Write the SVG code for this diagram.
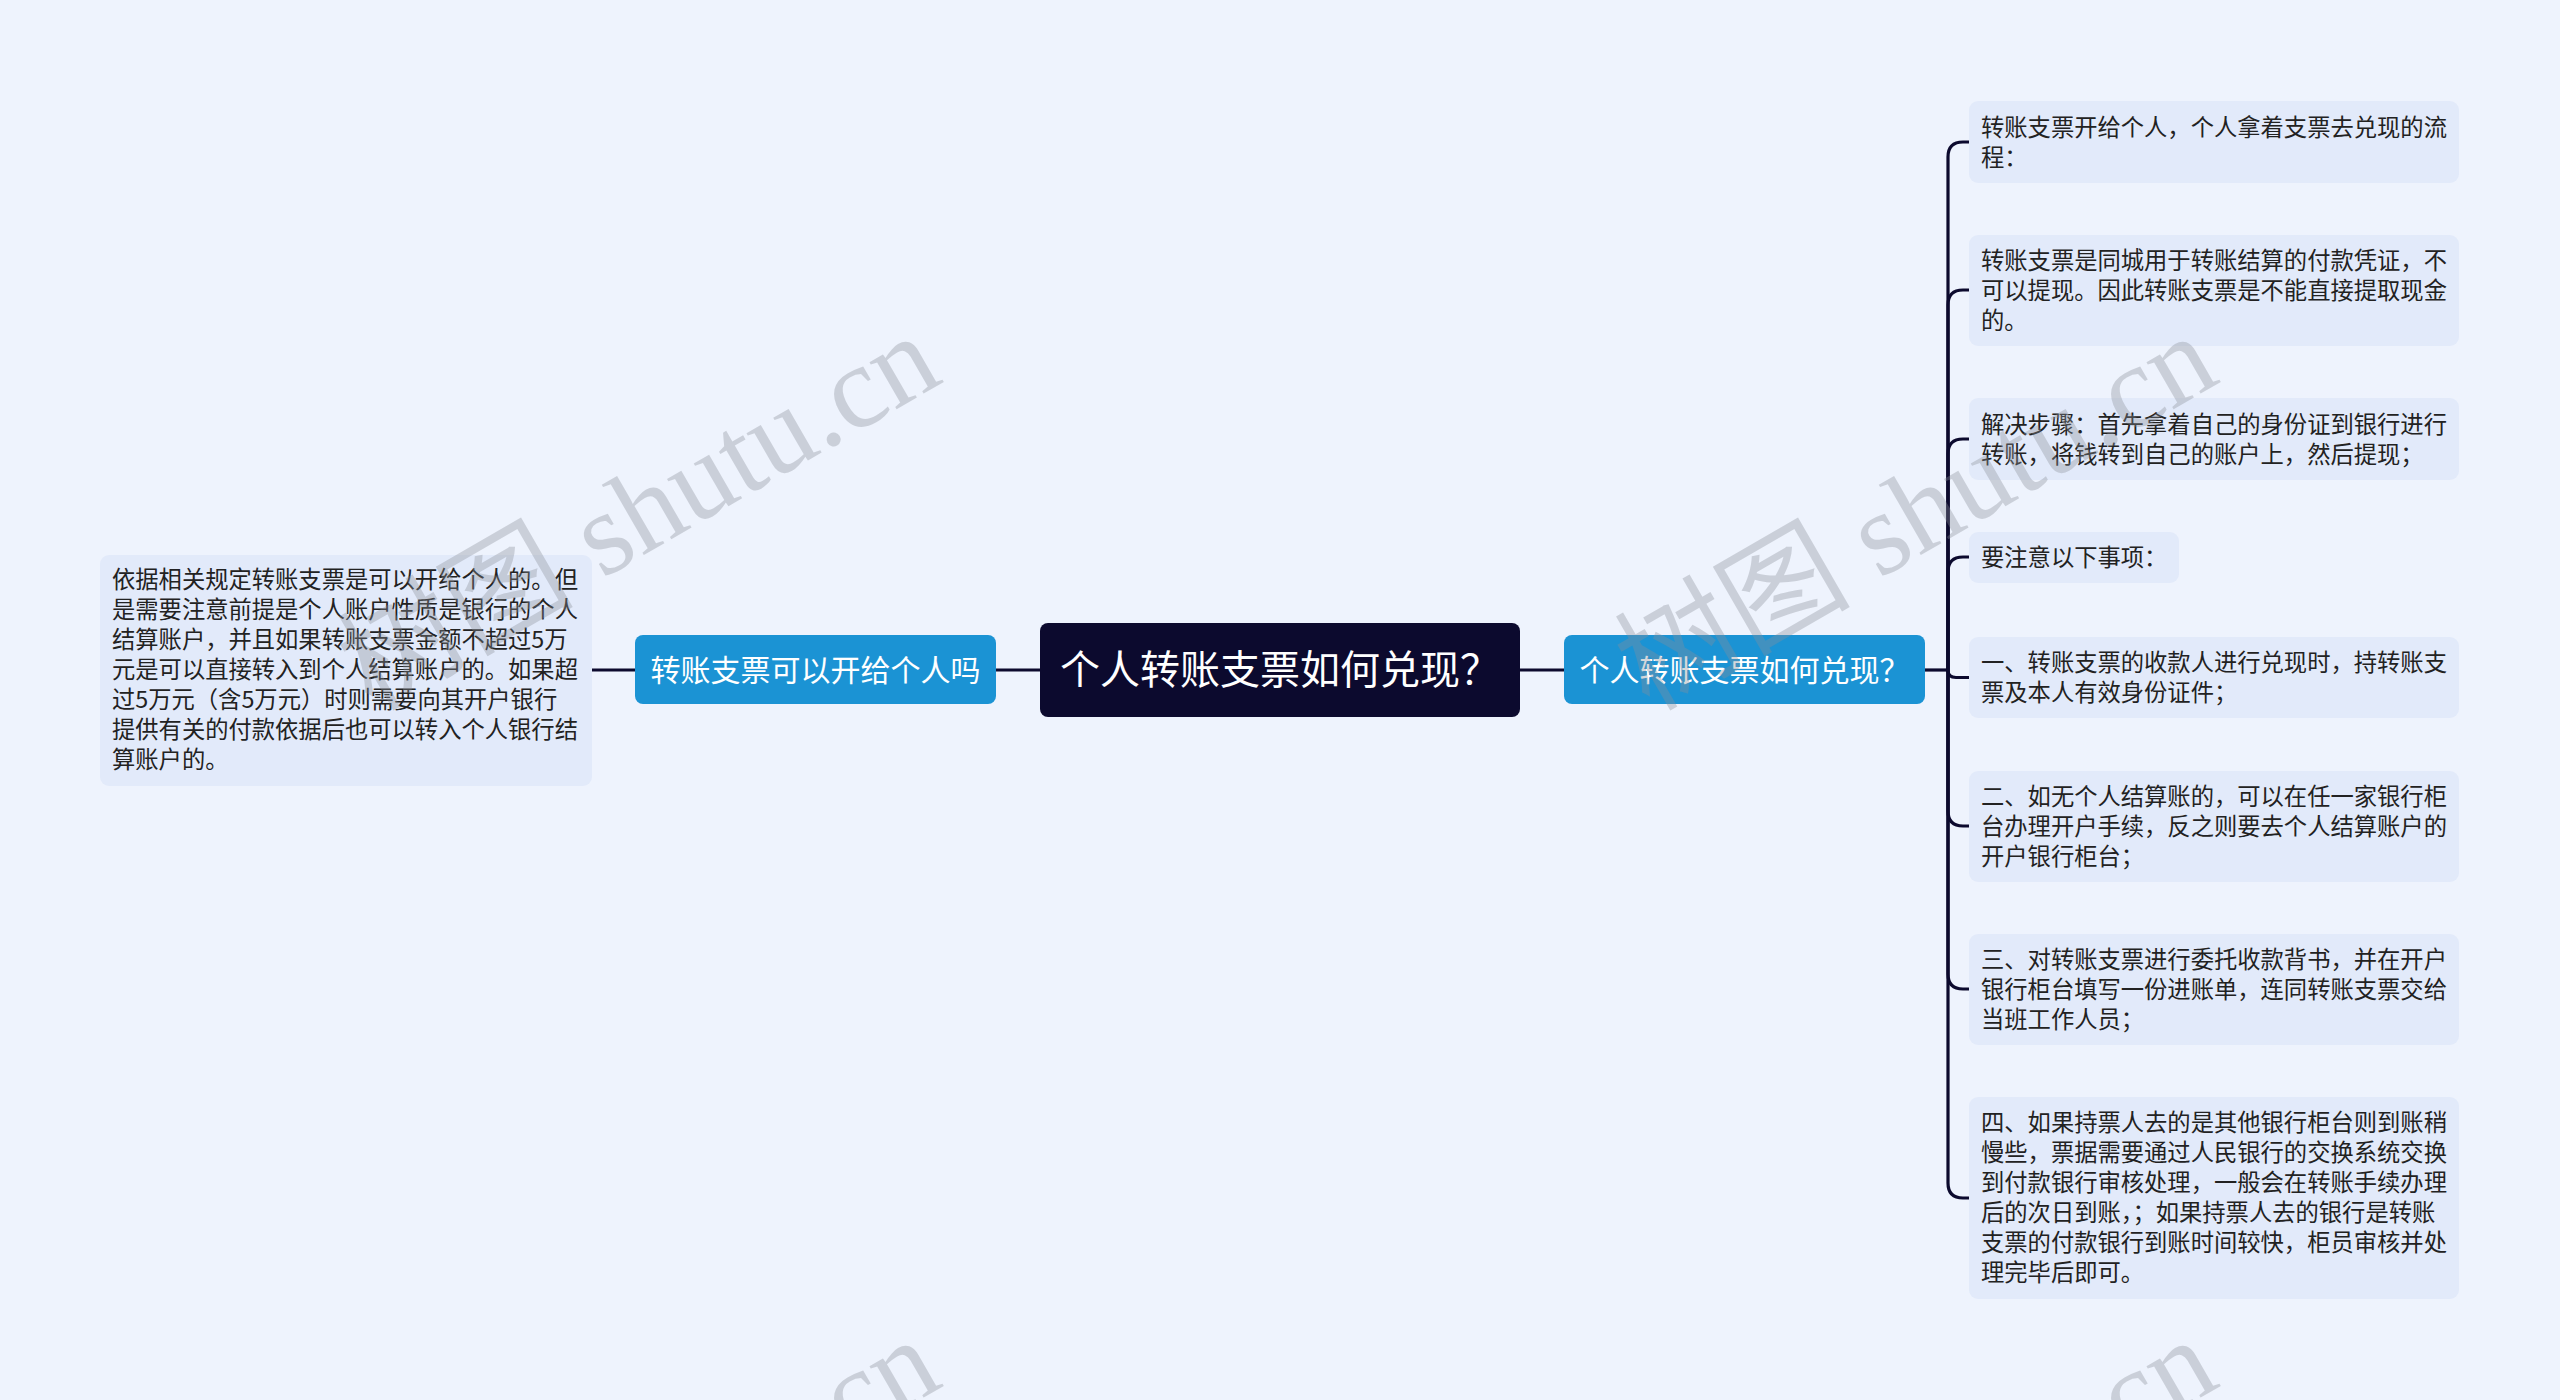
<svg xmlns="http://www.w3.org/2000/svg" width="2560" height="1400" viewBox="0 0 2560 1400">
<style>
.bg{fill:#eef3fd}
.leaf{fill:#e2eafa}
.lt{font-family:"Noto Sans CJK SC","Noto Sans",sans-serif;font-size:23.3px;fill:#222222}
.blue{fill:#1b93d4}
.bt{font-family:"Noto Sans CJK SC","Noto Sans",sans-serif;font-size:30px;fill:#ffffff;text-anchor:middle}
.ct{font-family:"Noto Sans CJK SC","Noto Sans",sans-serif;font-size:40px;fill:#ffffff;text-anchor:middle}
.ln{fill:none;stroke:#0c0a2e;stroke-width:3.2;stroke-linecap:butt}
.wm{font-family:"Liberation Serif","Noto Sans CJK SC",serif;font-size:118px;fill:#8a8f99;opacity:0.35}
</style>
<rect class="bg" x="0" y="0" width="2560" height="1400"/>

<g id="connectors">
<path class="ln" d="M592 670 H635"/>
<path class="ln" d="M996 670 H1040"/>
<path class="ln" d="M1520 670 H1564"/>
<path class="ln" d="M1925 670 H1948"/>
<path class="ln" d="M1948 670 V157 Q1948 142 1963 142 H1969"/>
<path class="ln" d="M1948 670 V305 Q1948 290 1963 290 H1969"/>
<path class="ln" d="M1948 670 V454 Q1948 439 1963 439 H1969"/>
<path class="ln" d="M1948 670 V572 Q1948 557 1963 557 H1969"/>
<path class="ln" d="M1948 670 Q1948 677.5 1956 677.5 H1969"/>
<path class="ln" d="M1948 670 V811 Q1948 826 1963 826 H1969"/>
<path class="ln" d="M1948 670 V974 Q1948 989 1963 989 H1969"/>
<path class="ln" d="M1948 670 V1183 Q1948 1198 1963 1198 H1969"/>
</g>

<g id="root">
<rect x="1040" y="623" width="480" height="94" rx="8" fill="#0c0a2e"/>
<text class="ct" x="1280" y="684">个人转账支票如何兑现？</text>
</g>

<g id="branch-left">
<rect class="blue" x="635" y="635" width="361" height="69" rx="8"/>
<text class="bt" x="815.5" y="680.5">转账支票可以开给个人吗</text>
</g>

<g id="branch-right">
<rect class="blue" x="1564" y="635" width="361" height="69" rx="8"/>
<text class="bt" x="1744.5" y="680.5">个人转账支票如何兑现？</text>
</g>

<g id="leaf-left">
<rect class="leaf" x="100" y="555" width="492" height="231" rx="9"/>
<text class="lt" x="112">
<tspan x="112" y="588">依据相关规定转账支票是可以开给个人的。但</tspan>
<tspan x="112" y="618">是需要注意前提是个人账户性质是银行的个人</tspan>
<tspan x="112" y="648">结算账户，并且如果转账支票金额不超过5万</tspan>
<tspan x="112" y="678">元是可以直接转入到个人结算账户的。如果超</tspan>
<tspan x="112" y="708">过5万元（含5万元）时则需要向其开户银行</tspan>
<tspan x="112" y="738">提供有关的付款依据后也可以转入个人银行结</tspan>
<tspan x="112" y="768">算账户的。</tspan>
</text>
</g>

<g id="leaf-1">
<rect class="leaf" x="1969" y="101" width="490" height="82" rx="9"/>
<text class="lt"><tspan x="1981" y="136">转账支票开给个人，个人拿着支票去兑现的流</tspan><tspan x="1981" y="166">程：</tspan></text>
</g>
<g id="leaf-2">
<rect class="leaf" x="1969" y="235" width="490" height="111" rx="9"/>
<text class="lt"><tspan x="1981" y="269">转账支票是同城用于转账结算的付款凭证，不</tspan><tspan x="1981" y="299">可以提现。因此转账支票是不能直接提取现金</tspan><tspan x="1981" y="329">的。</tspan></text>
</g>
<g id="leaf-3">
<rect class="leaf" x="1969" y="398" width="490" height="82" rx="9"/>
<text class="lt"><tspan x="1981" y="433">解决步骤：首先拿着自己的身份证到银行进行</tspan><tspan x="1981" y="463">转账，将钱转到自己的账户上，然后提现；</tspan></text>
</g>
<g id="leaf-4">
<rect class="leaf" x="1969" y="532" width="210" height="51" rx="9"/>
<text class="lt"><tspan x="1981" y="566">要注意以下事项：</tspan></text>
</g>
<g id="leaf-5">
<rect class="leaf" x="1969" y="637" width="490" height="81" rx="9"/>
<text class="lt"><tspan x="1981" y="671">一、转账支票的收款人进行兑现时，持转账支</tspan><tspan x="1981" y="701">票及本人有效身份证件；</tspan></text>
</g>
<g id="leaf-6">
<rect class="leaf" x="1969" y="771" width="490" height="111" rx="9"/>
<text class="lt"><tspan x="1981" y="805">二、如无个人结算账的，可以在任一家银行柜</tspan><tspan x="1981" y="835">台办理开户手续，反之则要去个人结算账户的</tspan><tspan x="1981" y="865">开户银行柜台；</tspan></text>
</g>
<g id="leaf-7">
<rect class="leaf" x="1969" y="934" width="490" height="111" rx="9"/>
<text class="lt"><tspan x="1981" y="968">三、对转账支票进行委托收款背书，并在开户</tspan><tspan x="1981" y="998">银行柜台填写一份进账单，连同转账支票交给</tspan><tspan x="1981" y="1028">当班工作人员；</tspan></text>
</g>
<g id="leaf-8">
<rect class="leaf" x="1969" y="1097" width="490" height="202" rx="9"/>
<text class="lt"><tspan x="1981" y="1131">四、如果持票人去的是其他银行柜台则到账稍</tspan><tspan x="1981" y="1161">慢些，票据需要通过人民银行的交换系统交换</tspan><tspan x="1981" y="1191">到付款银行审核处理，一般会在转账手续办理</tspan><tspan x="1981" y="1221">后的次日到账，；如果持票人去的银行是转账</tspan><tspan x="1981" y="1251">支票的付款银行到账时间较快，柜员审核并处</tspan><tspan x="1981" y="1281">理完毕后即可。</tspan></text>
</g>

<g id="watermarks">
<text class="wm" transform="translate(372 712) rotate(-30)">树图 shutu.cn</text>
<text class="wm" transform="translate(1649 712) rotate(-30)">树图 shutu.cn</text>
<text class="wm" transform="translate(372 1716) rotate(-30)">树图 shutu.cn</text>
<text class="wm" transform="translate(1649 1716) rotate(-30)">树图 shutu.cn</text>
</g>
</svg>
